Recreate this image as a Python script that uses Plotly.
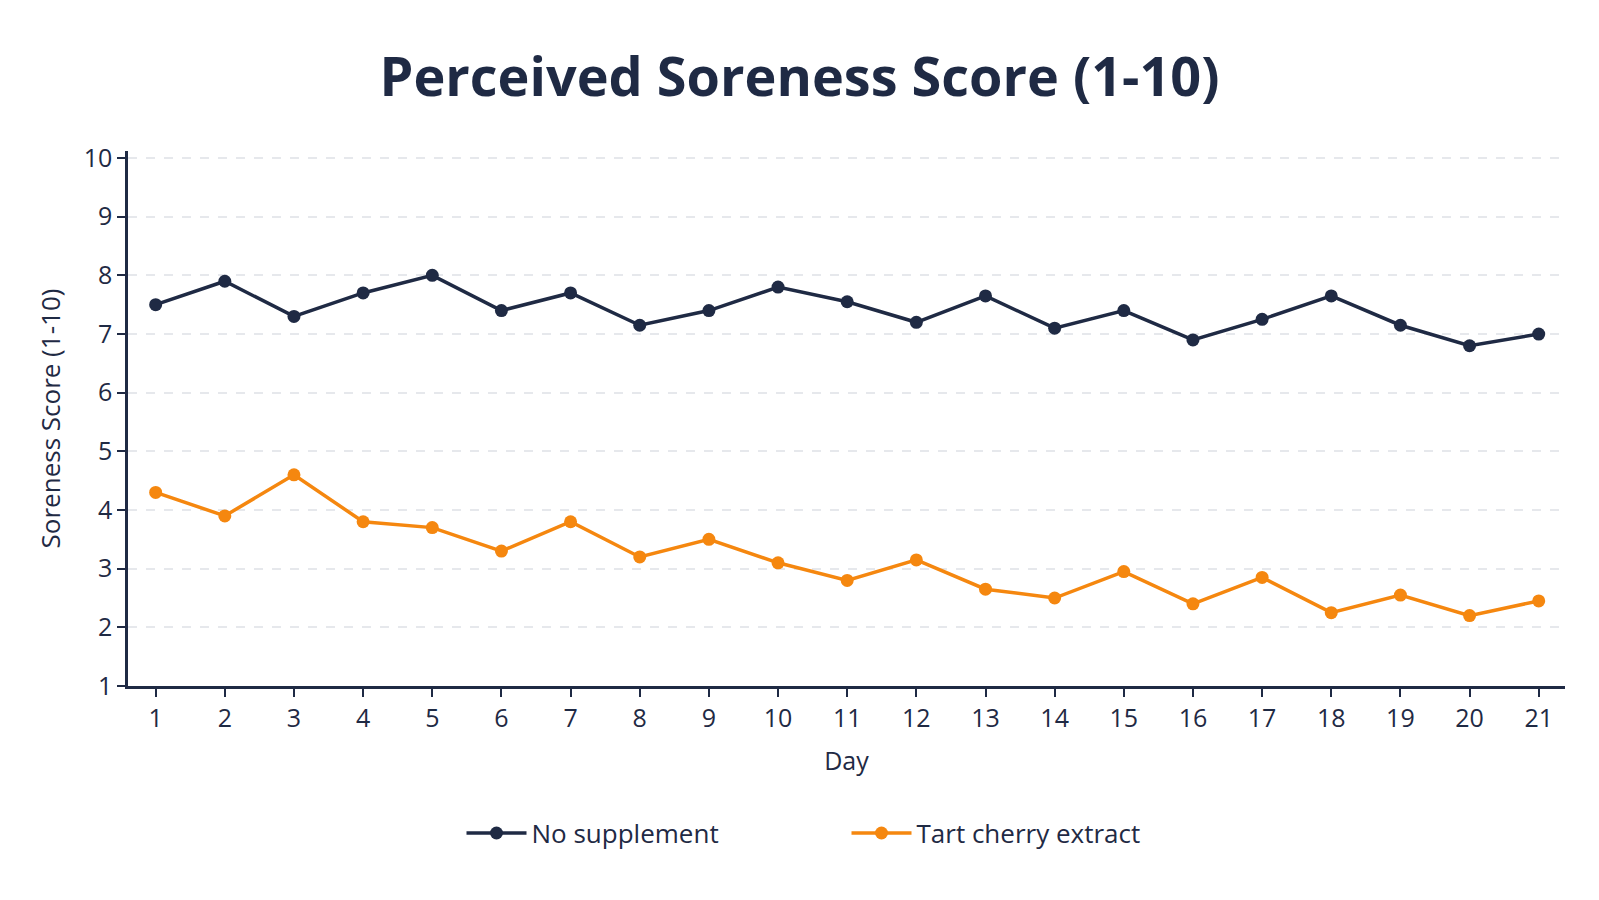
import plotly.graph_objects as go

days = list(range(1, 22))
no_supplement = [7.5, 7.9, 7.3, 7.7, 8.0, 7.4, 7.7, 7.15, 7.4, 7.8, 7.55,
                 7.2, 7.65, 7.1, 7.4, 6.9, 7.25, 7.65, 7.15, 6.8, 7.0]
tart_cherry = [4.3, 3.9, 4.6, 3.8, 3.7, 3.3, 3.8, 3.2, 3.5, 3.1, 2.8,
               3.15, 2.65, 2.5, 2.95, 2.4, 2.85, 2.25, 2.55, 2.2, 2.45]
y_ticks = list(range(1, 11))

NAVY = "#1f2a44"
ORANGE = "#f5870f"
FONT = "Open Sans"

fig = go.Figure()
fig.add_trace(go.Scatter(x=days, y=no_supplement, mode="lines+markers", name="No supplement",
                         line=dict(color=NAVY, width=3.5), marker=dict(color=NAVY, size=13)))
fig.add_trace(go.Scatter(x=days, y=tart_cherry, mode="lines+markers", name="Tart cherry extract",
                         line=dict(color=ORANGE, width=3.5), marker=dict(color=ORANGE, size=13)))

fig.update_layout(
    width=1599, height=900,
    paper_bgcolor="white", plot_bgcolor="white",
    margin=dict(l=128, r=34, t=151, b=214),
    font=dict(family=FONT, color=NAVY, size=23),
    title=dict(text="<b>Perceived Soreness Score (1-10)</b>", x=0.5, xanchor="center",
               y=1 - 77 / 900, yanchor="middle", font=dict(size=54, family=FONT, color=NAVY)),
    legend=dict(orientation="h", x=0.5, xanchor="center", y=-0.275, yanchor="middle",
                font=dict(size=26, color=NAVY), itemwidth=60, entrywidthmode="pixels",
                entrywidth=310),
    showlegend=True,
)
fig.update_xaxes(range=[0.6, 21.38], tickmode="array", tickvals=days,
                 showline=True, linecolor=NAVY, linewidth=2.5, ticks="outside",
                 tickcolor=NAVY, ticklen=8, tickwidth=2, showgrid=False, zeroline=False,
                 tickfont=dict(size=25, color=NAVY),
                 title=dict(text="Day", font=dict(size=25, color=NAVY), standoff=20))
fig.update_yaxes(range=[1, 10.12], tickmode="array", tickvals=y_ticks,
                 showline=True, linecolor=NAVY, linewidth=2.5, ticks="outside",
                 tickcolor=NAVY, ticklen=8, tickwidth=2, showgrid=True,
                 gridcolor="#e6e8ec", griddash="dash", gridwidth=1.5, zeroline=False,
                 tickfont=dict(size=25, color=NAVY),
                 title=dict(text="Soreness Score (1-10)", font=dict(size=26, color=NAVY), standoff=16))

fig.write_html("out.html")
